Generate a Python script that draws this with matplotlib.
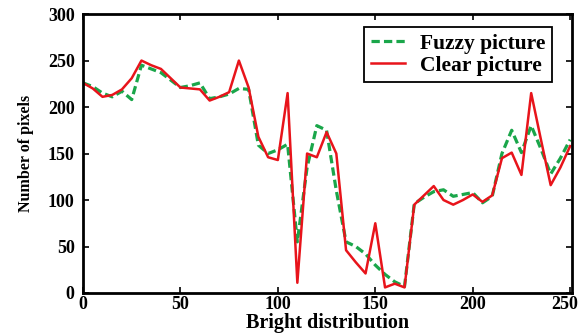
import matplotlib
matplotlib.use('Agg')
import matplotlib.pyplot as plt
from matplotlib.transforms import ScaledTranslation

plt.rcParams['font.family'] = ['Liberation Serif', 'DejaVu Serif']
plt.rcParams['font.weight'] = 'bold'

# datos
brillo = list(range(0, 251, 5))
fuzzy = [226, 222, 215, 211, 217, 208, 245, 241, 237, 229,
         221, 223, 226, 209, 211, 214, 220, 219, 159, 150,
         154, 160, 55, 135, 180, 175, 110, 55, 50, 42,
         30, 20, 12, 7, 96, 103, 109, 111, 104, 106,
         108, 97, 104, 150, 175, 151, 180, 155, 128, 145,
         165]
clear = [226, 220, 211, 213, 219, 231, 250, 245, 241, 231,
         221, 220, 219, 207, 211, 216, 250, 221, 168, 146,
         143, 215, 11, 150, 146, 173, 150, 46, 33, 21,
         75, 6, 10, 6, 95, 105, 115, 100, 95, 100,
         106, 98, 105, 145, 151, 127, 215, 165, 116, 135,
         158]

xticks = [0, 50, 100, 150, 200, 250]
yticks = [0, 50, 100, 150, 200, 250, 300]

fig = plt.figure(figsize=(5.82, 3.35), dpi=100)
ax = fig.add_axes([0.1426, 0.1254, 0.8404, 0.8326])

ax.plot(brillo, fuzzy, '--', color='#1aa64a', linewidth=2.3,
        dashes=(2.6, 1.3), label='Fuzzy picture')
ax.plot(brillo, clear, '-', color='#e8141b', linewidth=1.8,
        label='Clear picture')

ax.set_xlim(0, 251)
ax.set_ylim(0, 300)
ax.set_xticks(xticks)
ax.set_yticks(yticks)
ax.tick_params(direction='in', top=True, right=True, length=4,
               width=1.2, labelsize=13)
ax.tick_params(axis='x', pad=2)
ax.tick_params(axis='y', pad=6)
for lbl in ax.get_xticklabels() + ax.get_yticklabels():
    lbl.set_fontweight('bold')
for s in ax.spines.values():
    s.set_linewidth(2)

# el ultimo numero del eje x se corre un poco para que no se corte
ultimo = ax.get_xticklabels()[-1]
ultimo.set_transform(ultimo.get_transform() +
                     ScaledTranslation(-5/100, 0, fig.dpi_scale_trans))

ax.set_xlabel('Bright distribution', fontsize=14.5, fontweight='bold',
              labelpad=0)
ax.set_ylabel('Number of pixels', fontsize=11.5, fontweight='bold',
              labelpad=10)

leg = ax.legend(loc='upper right', bbox_to_anchor=(0.959, 0.953),
                fontsize=15.5, fancybox=False, framealpha=1,
                edgecolor='black', handlelength=1.6, handletextpad=0.7,
                borderpad=0.3, labelspacing=0.1, borderaxespad=0)
leg.get_frame().set_linewidth(1.3)
for t in leg.get_texts():
    t.set_fontweight('bold')

fig.savefig('out.png', dpi=100)
